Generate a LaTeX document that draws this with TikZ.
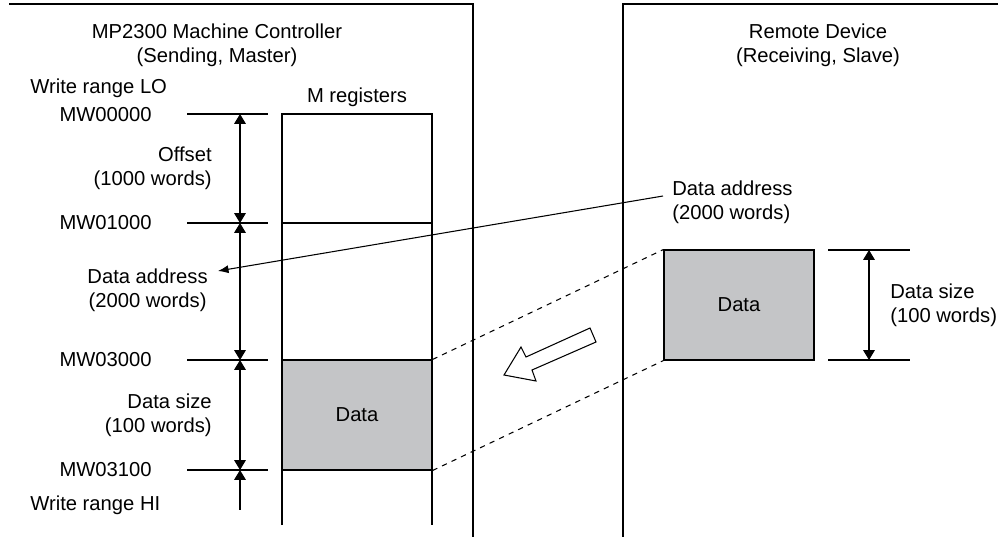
\documentclass[tikz,border=0pt]{standalone}
\usepackage{fontspec}
\setmainfont{Liberation Sans}
\usepackage{tikz}
\usetikzlibrary{positioning,calc,arrows.meta}
\definecolor{regGray}{RGB}{196,197,199}

\begin{document}
\begin{tikzpicture}[x=0.02cm,y=-0.02cm,font=\fontsize{11.5}{13.6}\selectfont,
   lbl/.style={inner sep=0pt},
   frame/.style={line width=0.65pt},
   datab/.style={draw,fill=regGray,line width=0.6pt,minimum width=3cm,minimum height=2.2cm,inner sep=0pt},
   e/.style={line width=0.6pt},
   dim/.style={line width=0.6pt,{Triangle[length=5.6pt,width=6.6pt]}-{Triangle[length=5.6pt,width=6.6pt]}},
   dimstart/.style={line width=0.6pt,{Triangle[length=5.6pt,width=6.6pt]}-},
   lead/.style={line width=0.6pt,-{Latex[length=6pt,width=4.6pt]}}]
\useasboundingbox (0,0) rectangle (1000,537);
%% ---- panel frames ----
\draw[frame] (9,4) -- (473,4) -- (473,537);
\draw[frame] (998,4) -- (623,4) -- (623,537);
%% ---- sending side: MP2300 ----
\node[lbl,align=center] (titleL) at (217,45) {MP2300 Machine Controller\\(Sending, Master)};
\node[lbl,anchor=west] (loR) at (30,88) {Write range LO};
\node[lbl] (mreg) at (357,97) {M registers};
\node[lbl,anchor=east] (mw0) at (152,115) {MW00000};
\node[lbl,anchor=east] (mw1) at (152,223) {MW01000};
\node[lbl,anchor=east] (mw3) at (152,360) {MW03000};
\node[lbl,anchor=east] (mw31) at (152,470) {MW03100};
\node[lbl,anchor=west] (hiR) at (30,505) {Write range HI};
\foreach \yy in {114,223,360,470}
  \draw[e] (187,\yy) -- (268,\yy);
\coordinate (d0) at (240,114);
\coordinate (d1) at (240,223);
\coordinate (d2) at (240,360);
\coordinate (d3) at (240,470);
\coordinate (d4) at (240,510);
\draw[dim] (d0) -- (d1);
\draw[dim] (d1) -- (d2);
\draw[dim] (d2) -- (d3);
\draw[dimstart] (d3) -- (d4);
\node[lbl,align=right,anchor=east] (offs) at (212,168) {Offset\\(1000 words)};
\node[lbl,align=center,anchor=east] (addrL) at (208,290) {Data address\\(2000 words)};
\node[lbl,align=right,anchor=east] (sizeL) at (212,415) {Data size\\(100 words)};
% register column
\node[datab] (dataL) at (357,415) {Data};
\draw[e] (282,525) -- (282,114) -- (432,114) -- (432,525);
\draw[e] (282,223) -- (432,223);
%% ---- receiving side: remote device ----
\node[lbl,align=center] (titleR) at (818,45) {Remote Device\\(Receiving, Slave)};
\node[datab] (dataR) at (739,305) {Data};
\draw[e] (828,250) -- (910,250);
\draw[e] (828,360) -- (910,360);
\coordinate (r0) at (869,250);
\coordinate (r1) at (869,360);
\draw[dim] (r0) -- (r1);
\node[lbl,align=left,anchor=west] (sizeR) at (890,305) {Data size\\(100 words)};
\node[lbl,align=left,anchor=west] (addrR) at (672,202) {Data address\\(2000 words)};
\coordinate (addrFrom) at (663,196);
\coordinate (addrTip) at (218,271);
\draw[lead] (addrFrom) -- (addrTip);
%% ---- transfer ----
\draw[e,dashed,dash pattern=on 3pt off 3pt] (dataL.north east) -- (dataR.north west);
\draw[e,dashed,dash pattern=on 3pt off 3pt] (dataL.south east) -- (dataR.south west);
\draw[e,fill=white] (504,375) -- (521,347) -- (526,357) -- (590,328) -- (596,342) -- (532,370) -- (536,381) -- cycle;
\end{tikzpicture}
\end{document}
